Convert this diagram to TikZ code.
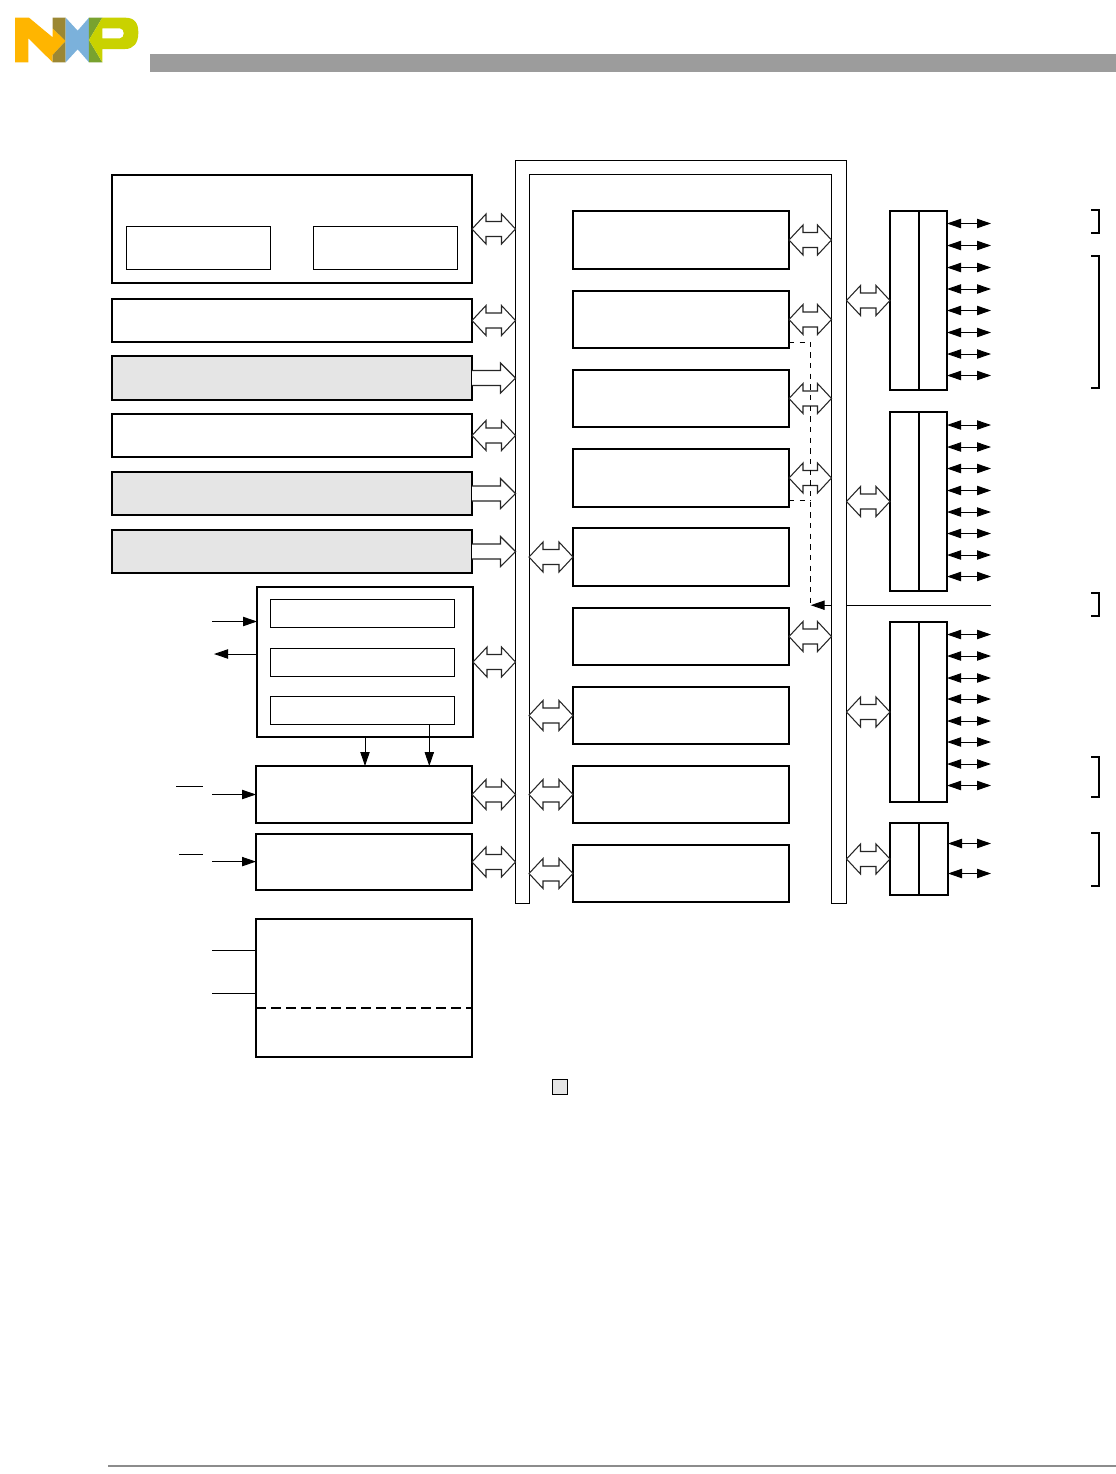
\documentclass[tikz,border=0pt]{standalone}
\usetikzlibrary{calc,arrows.meta}
\definecolor{shade}{HTML}{E5E5E5}
\definecolor{headgray}{HTML}{9C9C9C}
\definecolor{nxporange}{HTML}{FFB500}
\definecolor{nxpbrown}{HTML}{9B8733}
\definecolor{nxpblue}{HTML}{7BB1DB}
\definecolor{nxpgreen}{HTML}{78A22F}
\definecolor{nxplime}{HTML}{C9D200}
\tikzset{>={Triangle[length=10.5pt,width=7pt]}}
\tikzset{
    sized/.style 2 args={minimum width=#1*0.75pt,minimum height=#2*0.75pt,inner sep=0pt,outer sep=0pt},
    blk/.style={draw,line width=1.5pt,fill=white},
    thinblk/.style={draw,line width=0.7pt,fill=white},
    greyblk/.style={blk,fill=shade},
    wire/.style={line width=0.7pt},
    stub/.style={wire,<->},
    bracket/.style={line width=1.5pt},
    tapline/.style={line width=0.6pt,dash pattern=on 4pt off 4pt},
    busboth/.style={line width=0.8pt,draw=black!85,fill=white,to path={
        -- ++(14,-15) -- ++(0,7.5) -- ($(\tikztotarget)+(-14,-7.5)$) -- ++(0,-7.5) -- (\tikztotarget)
        -- ++(-14,15) -- ++(0,-7.5) -- ($(\tikztostart)+(14,7.5)$) -- ++(0,7.5) -- cycle}},
}
\begin{document}
\begin{tikzpicture}[x=0.75pt,y=-0.75pt]
    \useasboundingbox (0,0) rectangle (1116,1474);
    % page furniture
    \fill[headgray] (150,54) rectangle (1116,72);
    \fill[black!45] (108,1465) rectangle (1116,1466.5);
    % logo
    \begin{scope}[shift={(10,10)},scale=1/3]
        \fill[nxporange] (15,23) -- (57,23) -- (128,82) -- (128,55) -- (167,93) -- (128,135) -- (128,157) -- (55,85) -- (55,157) -- (15,157) -- cycle;
        \fill[nxpbrown] (128,23) -- (167,23) -- (167,93) -- (128,55) -- cycle;
        \fill[nxpbrown] (128,157) -- (167,157) -- (167,93) -- (128,135) -- cycle;
        \fill[nxpblue] (167,23) -- (203,62) -- (237,23) -- (237,157) -- (203,118) -- (167,157) -- cycle;
        \fill[nxpgreen] (237,23) -- (277,23) -- (237,90) -- (277,157) -- (237,157) -- cycle;
        \fill[nxplime,even odd rule] (277,23) -- (345,23) .. controls (375,23) and (385,40) .. (385,68) .. controls (385,100) and (370,117) .. (345,117) -- (277,117) -- (277,157) -- (237,90) -- cycle
            (277,55) -- (330,55) .. controls (345,55) and (345,85) .. (330,85) -- (277,85) -- cycle;
    \end{scope}

    \coordinate (busl) at (515.5,0);
    \coordinate (busi) at (529,0);
    \coordinate (busr) at (831.5,0);
    \coordinate (buso) at (846.5,0);
    \coordinate (lftx) at (212,0);
    \coordinate (pinx) at (991,0);
    \coordinate (tap) at (810.7,605.2);

    % line behind the bus
    \draw[wire,->] (pinx |- tap) -- (tap);
    \draw[line width=0.75pt,fill=white] (515.5,903) -- (515.5,160.6) -- (846.5,160.6) -- (846.5,903) -- (831.5,903)
        -- (831.5,174.5) -- (529,174.5) -- (529,903) -- cycle;

    % left column
    \node[blk,sized={360}{108}] (core) at (292,229) {};
    \node[thinblk,sized={144}{43}] (corea) at (198.5,247.5) {};
    \node[thinblk,sized={144}{43}] (coreb) at (385.5,247.5) {};
    \node[blk,sized={360}{43}] (lft2) at (292,320.5) {};
    \node[greyblk,sized={360}{44}] (lft3) at (292,378) {};
    \node[blk,sized={360}{43}] (lft4) at (292,435.5) {};
    \node[greyblk,sized={360}{43}] (lft5) at (292,493.5) {};
    \node[greyblk,line width=2.2pt,sized={360}{43}] (lft6) at (292,551.5) {};
    \node[blk,line width=2.1pt,sized={216}{150}] (ctl) at (365,662) {};
    \node[thinblk,sized={184}{28.5}] (ctla) at (362.5,613.7) {};
    \node[thinblk,sized={184}{28.5}] (ctlb) at (362.5,662.7) {};
    \node[thinblk,sized={184}{28.5}] (ctlc) at (362.5,710.7) {};
    \node[blk,sized={216}{57}] (lft8) at (364,794.5) {};
    \node[blk,sized={216}{56}] (lft9) at (364,862) {};
    \node[blk,sized={216}{138}] (mem) at (364,988) {};
    \draw[line width=1.5pt,dash pattern=on 7.5pt off 3.75pt] (mem.west |- 0,1008) -- (mem.east |- 0,1008);

    % middle column
    \foreach \n/\y/\h in {cb1/240/58,cb2/319.5/57,cb3/398.5/57,cb4/478/58,cb5/557/58,cb6/636.5/57,cb7/715.5/57,cb8/794.5/57,cb9/873.5/57}
        \node[blk,sized={216}{\h}] (\n) at (681,\y) {};

    % right column
    \node[blk,sized={57}{179}] (st1) at (918.5,300.5) {};
    \node[blk,sized={57}{179}] (st2) at (918.5,501.5) {};
    \node[blk,sized={57}{180}] (st3) at (918.5,712) {};
    \node[blk,sized={58}{72}] (st4) at (919,859) {};
    \foreach \n in {st1,st2,st3,st4}
        \draw[line width=1.5pt] (\n.north) -- (\n.south);
    \foreach \y in {223.5,245.5,267.5,289,310.5,332.5,354,375.5}
        \draw[stub] (st1.east |- 0,\y) -- (pinx |- 0,\y);
    \foreach \y in {425,447,468.5,490.5,512,533.5,555,576.5}
        \draw[stub] (st2.east |- 0,\y) -- (pinx |- 0,\y);
    \foreach \y in {634.5,656,678,699,721,742,764,785.5}
        \draw[stub] (st3.east |- 0,\y) -- (pinx |- 0,\y);
    \foreach \y in {843.5,873.5}
        \draw[stub] (st4.east |- 0,\y) -- (pinx |- 0,\y);

    % bus arrows
    \foreach \n in {core,lft2,lft4,ctl,lft8,lft9}
        \draw[busboth] (\n.east) to (busl |- \n.east);
    \foreach \n in {lft3,lft5,lft6}
        \draw[line width=0.8pt,draw=black!85,fill=white] ($(\n.east)+(0,-7.5)$) -- ($(busl |- \n.east)+(-15,-7.5)$) -- ++(0,-7.5)
            -- (busl |- \n.east) -- ++(-15,15) -- ++(0,-7.5) -- ($(\n.east)+(0,7.5)$);
    \foreach \n in {cb1,cb2,cb3,cb4,cb6}
        \draw[busboth] (\n.east) to (busr |- \n.east);
    \foreach \n in {cb5,cb7,cb8,cb9}
        \draw[busboth] (busi |- \n.west) to (\n.west);
    \foreach \n in {st1,st2,st3,st4}
        \draw[busboth] (buso |- \n.west) to (\n.west);

    % dashed tap lines
    \draw[tapline] (cb2.east |- 0,342) -| (tap);
    \draw[tapline] (cb4.east |- 0,500) -- (tap |- 0,500);

    % control signals
    \draw[wire,->] (lftx |- 0,621.5) -- (ctl.west |- 0,621.5);
    \draw[wire,->] (ctl.west |- 0,654) -- (214,654);
    \draw[wire,->] (ctl.south) -- (ctl.south |- lft8.north);
    \draw[wire,->] (429.3,0 |- ctlc.south) -- (429.3,0 |- lft8.north);
    \draw[wire,->] (lftx |- lft8.west) -- (lft8.west);
    \draw[wire,->] (lftx |- 0,861.6) -- (lft9.west |- 0,861.6);
    \draw[wire] (176,786.3) -- (203,786.3);
    \draw[wire] (179,854.5) -- (203,854.5);
    \draw[wire] (lftx |- 0,950.3) -- (mem.west |- 0,950.3);
    \draw[wire] (lftx |- 0,993.3) -- (mem.west |- 0,993.3);

    % brackets
    \foreach \a/\b in {210/232.7,255.7/387.7,592.7/615.7,756.7/796.7,833/886}
        \draw[bracket] (1091,\a) -- (1098.5,\a) -- (1098.5,\b) -- (1091,\b);

    % legend
    \node[thinblk,fill=shade,sized={15}{15}] (legend) at (559.5,1086.5) {};
\end{tikzpicture}
\end{document}
